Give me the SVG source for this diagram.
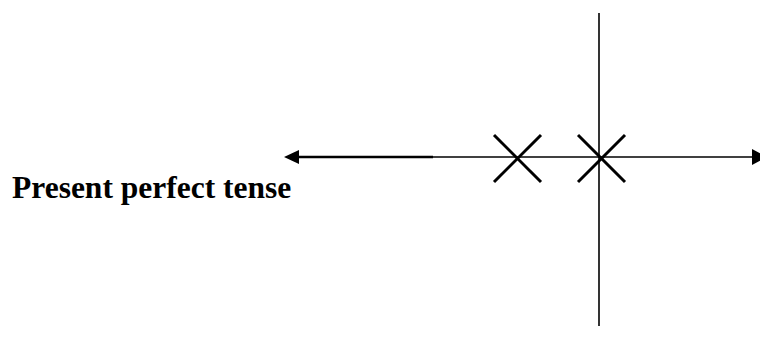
<svg xmlns="http://www.w3.org/2000/svg" width="760" height="356" viewBox="0 0 760 356">
<style>
.ln{stroke:#000;fill:none}
.x{stroke:#000;stroke-width:3;fill:none}
.ah{fill:#000;stroke:none}
.lbl{font-family:"Liberation Serif","Times New Roman",serif;font-weight:bold;font-size:31.5px;fill:#000}
</style>
<rect width="760" height="356" fill="#fff"/>
<g id="connectors">
<line class="ln" x1="296" y1="157" x2="433" y2="157" stroke-width="2.5"/>
<line class="ln" x1="433" y1="157" x2="754" y2="157" stroke-width="1.6"/>
<polygon class="ah" points="284,157 299,150 299,164"/>
<polygon class="ah" points="767,157 752,149 752,165"/>
<line class="ln" x1="599" y1="13" x2="599" y2="326" stroke-width="1.6"/>
</g>
<g id="mark1">
<line class="x" x1="494" y1="135" x2="541" y2="182"/>
<line class="x" x1="541" y1="135" x2="494" y2="182"/>
</g>
<g id="mark2">
<line class="x" x1="578" y1="135" x2="625" y2="182"/>
<line class="x" x1="625" y1="135" x2="578" y2="182"/>
</g>
<g id="label">
<text class="lbl" x="12" y="198">Present perfect tense</text>
</g>
</svg>
